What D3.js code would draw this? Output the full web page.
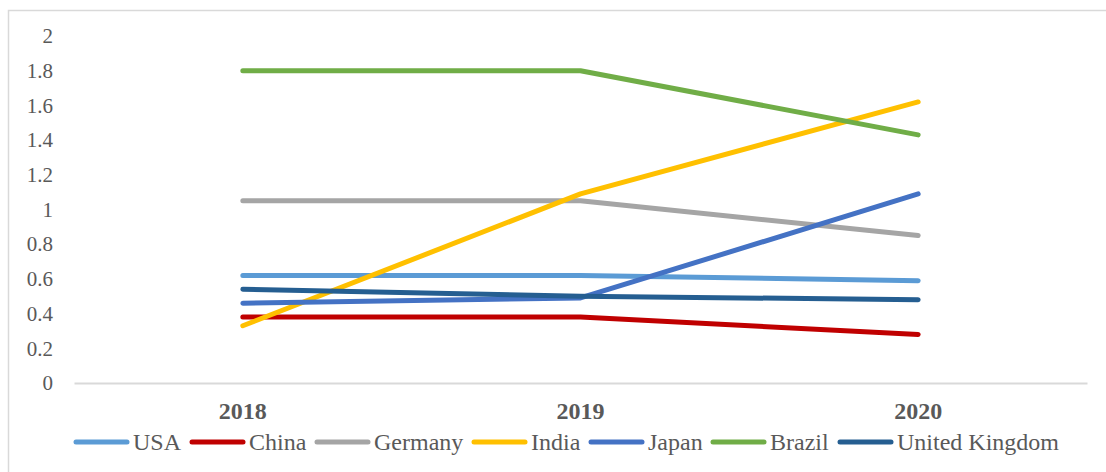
<!DOCTYPE html>
<html>
<head>
<meta charset="utf-8">
<script src="https://cdn.jsdelivr.net/npm/d3@7"></script>
<style>
  body { margin: 0; background: #fff; }
  svg { display: block; font-family: "Liberation Serif", "Times New Roman", serif; }
</style>
</head>
<body>
<div class="d3"></div>
<script>
var years = ["2018", "2019", "2020"];
var seriesNames = ["USA", "China", "Germany", "India", "Japan", "Brazil", "United Kingdom"];
var colors = ["#5B9BD5", "#C00000", "#A5A5A5", "#FFC000", "#4472C4", "#70AD47", "#255E91"];
var usa = [0.62, 0.62, 0.59];
var china = [0.38, 0.38, 0.28];
var germany = [1.05, 1.05, 0.85];
var india = [0.33, 1.09, 1.62];
var japan = [0.46, 0.49, 1.09];
var brazil = [1.80, 1.80, 1.43];
var uk = [0.54, 0.50, 0.48];
var yTicks = [0, 0.2, 0.4, 0.6, 0.8, 1, 1.2, 1.4, 1.6, 1.8, 2];

var values = [usa, china, germany, india, japan, brazil, uk];
var series = seriesNames.map(function(name, i) {
    return {name: name, color: colors[i], values: values[i]};
});

var width = 1106, height = 472;

var svg = d3.select(".d3").append("svg")
    .attr("width", width)
    .attr("height", height);

// outer frame
svg.append("rect")
    .attr("x", 8.5).attr("y", 10.5)
    .attr("width", 1110).attr("height", 480)
    .attr("fill", "none")
    .attr("stroke", "#d9d9d9")
    .attr("stroke-width", 1.5);

var x = d3.scaleBand()
    .domain(years)
    .range([74, 1087]);

var y = d3.scaleLinear()
    .domain([0, 2])
    .range([383, 36]);

// y labels (no axis line)
var yAxis = d3.axisLeft(y)
    .tickValues(yTicks)
    .tickSize(0)
    .tickPadding(0)
    .tickFormat(function(d) { return String(d); });

var gy = svg.append("g")
    .attr("transform", "translate(53,0)")
    .call(yAxis);
gy.select(".domain").remove();
gy.selectAll("text")
    .attr("fill", "#595959")
    .style("font-size", "21px")
    .style("font-family", "Liberation Serif");

// x axis
var gx = svg.append("g")
    .attr("transform", "translate(0,383)")
    .call(d3.axisBottom(x).tickSize(0).tickPadding(19));
gx.select(".domain").attr("stroke", "#d9d9d9").attr("stroke-width", 2);
gx.selectAll("text")
    .attr("fill", "#595959")
    .style("font-size", "24px")
    .style("font-weight", "bold")
    .style("font-family", "Liberation Serif");

var line = d3.line()
    .x(function(d, i) { return x(years[i]) + x.bandwidth() / 2; })
    .y(function(d) { return y(d); });

svg.selectAll(".series")
    .data(series)
  .enter().append("path")
    .attr("class", "series")
    .attr("d", function(d) { return line(d.values); })
    .attr("fill", "none")
    .attr("stroke", function(d) { return d.color; })
    .attr("stroke-width", 5)
    .attr("stroke-linecap", "round")
    .attr("stroke-linejoin", "round");

// legend
var legendX = [74, 190, 315, 472, 589, 711, 838];
var legend = svg.selectAll(".legend")
    .data(series)
  .enter().append("g")
    .attr("class", "legend")
    .attr("transform", function(d, i) { return "translate(" + legendX[i] + ",442)"; });

legend.append("line")
    .attr("x1", 2).attr("x2", 53)
    .attr("stroke", function(d) { return d.color; })
    .attr("stroke-width", 5)
    .attr("stroke-linecap", "round");

legend.append("text")
    .attr("x", 59)
    .attr("y", 8)
    .attr("fill", "#595959")
    .style("font-size", "24px")
    .style("font-family", "Liberation Serif")
    .text(function(d) { return d.name; });
</script>
</body>
</html>
